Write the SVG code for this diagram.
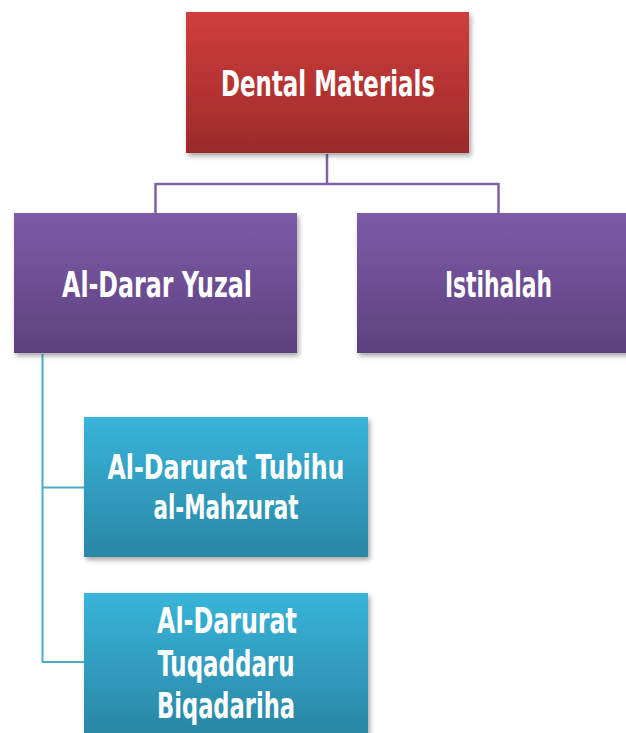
<svg xmlns="http://www.w3.org/2000/svg" width="626" height="733" viewBox="0 0 626 733">
<defs>
<linearGradient id="gRed" x1="0" y1="0" x2="0" y2="1"><stop offset="0" stop-color="#d03e3b"/><stop offset="1" stop-color="#9c2a2a"/></linearGradient>
<linearGradient id="gPur" x1="0" y1="0" x2="0" y2="1"><stop offset="0" stop-color="#7d5ba7"/><stop offset="1" stop-color="#5d417f"/></linearGradient>
<linearGradient id="gCyan" x1="0" y1="0" x2="0" y2="1"><stop offset="0" stop-color="#38b4da"/><stop offset="1" stop-color="#2a87a4"/></linearGradient>
<filter id="sh" x="-10%" y="-10%" width="125%" height="130%"><feDropShadow dx="2" dy="3" stdDeviation="2.5" flood-color="#000" flood-opacity="0.35"/></filter>
</defs>
<style>
text{font-family:"Liberation Sans Narrow","DejaVu Sans Condensed","Liberation Sans",sans-serif;font-size:36px;font-weight:bold;fill:#fff;text-anchor:middle}
.s{font-size:34px}
.p{stroke:#8064a2;stroke-width:2.5;fill:none}
.c{stroke:#4bacc6;stroke-width:2;fill:none}
</style>
<g id="connectors">
<path class="p" d="M327 154V184M155.5 184H498.5M155.5 183V213M498.5 183V213"/>
<path class="c" d="M42.5 354V662H84M42.5 487.5H84"/>
</g>
<g id="root"><rect x="186" y="12" width="283" height="141" fill="url(#gRed)" filter="url(#sh)"/><text x="328" y="96" textLength="214" lengthAdjust="spacingAndGlyphs">Dental Materials</text></g>
<g id="darar"><rect x="14" y="213" width="283" height="140" fill="url(#gPur)" filter="url(#sh)"/><text x="157" y="297" textLength="190" lengthAdjust="spacingAndGlyphs">Al-Darar Yuzal</text></g>
<g id="istihalah"><rect x="357" y="213" width="283" height="140" fill="url(#gPur)" filter="url(#sh)"/><text x="498.5" y="297" textLength="107" lengthAdjust="spacingAndGlyphs">Istihalah</text></g>
<g id="tubihu"><rect x="84" y="417" width="284" height="140" fill="url(#gCyan)" filter="url(#sh)"/><text class="s" x="226" y="479" textLength="237" lengthAdjust="spacingAndGlyphs">Al-Darurat Tubihu</text><text class="s" x="226" y="519" textLength="145" lengthAdjust="spacingAndGlyphs">al-Mahzurat</text></g>
<g id="tuqaddaru"><rect x="84" y="593" width="284" height="141" fill="url(#gCyan)" filter="url(#sh)"/><text x="227" y="633" textLength="140" lengthAdjust="spacingAndGlyphs">Al-Darurat</text><text x="226" y="676" textLength="137" lengthAdjust="spacingAndGlyphs">Tuqaddaru</text><text x="226" y="718" textLength="138" lengthAdjust="spacingAndGlyphs">Biqadariha</text></g>
</svg>
